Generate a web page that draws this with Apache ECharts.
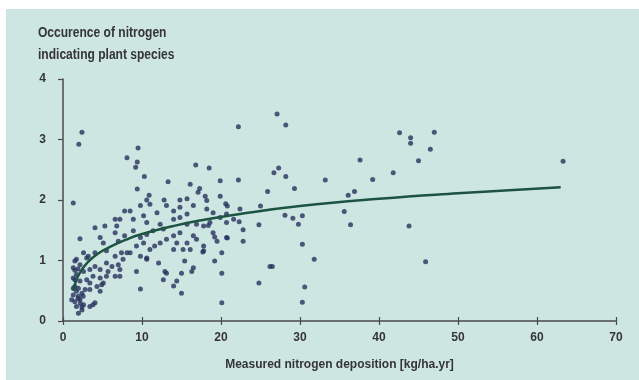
<!DOCTYPE html>
<html>
<head>
<meta charset="utf-8">
<script src="https://cdn.jsdelivr.net/npm/echarts@6/dist/echarts.min.js"></script>
<style>
  html, body { margin: 0; padding: 0; background: #ffffff; }
  #chart { width: 639px; height: 380px; }
</style>
</head>
<body>
<div id="chart"></div>
<script>
// Site observations: [nitrogen deposition (kg/ha.yr), occurrence index]
const observations = [
  [2.4,3.12],[2.0,2.92],[1.3,1.95],[9.5,2.86],[8.1,2.7],[9.4,2.63],[9.2,2.54],[10.3,2.39],
  [9.4,2.18],[13.3,2.3],[16.8,2.58],[18.5,2.53],[19.9,2.32],[22.2,2.33],[22.2,3.21],[16.1,2.26],
  [17.3,2.19],[17.1,2.13],[18.0,2.06],[19.9,2.06],[10.9,2.08],[10.6,2.0],[12.8,2.0],[14.8,2.0],
  [15.7,2.02],[18.2,1.99],
  [9.8,1.91],[11.0,1.93],[11.9,1.79],[13.1,1.91],[14.0,1.82],[14.8,1.88],[15.7,1.77],[16.5,1.91],
  [18.2,1.85],[19.0,1.79],[20.7,1.77],[10.2,1.74],[8.5,1.82],[7.8,1.82],[8.9,1.68],[7.2,1.68],
  [6.6,1.68],[6.8,1.57],[10.6,1.63],[12.3,1.6],[14.0,1.68],[14.8,1.71],[15.7,1.6],[16.9,1.6],
  [17.8,1.57],[18.6,1.63],[19.9,1.71],[20.7,1.63],[21.6,1.68],
  [4.05,1.54],[5.3,1.57],[2.15,1.36],[4.7,1.38],[5.1,1.29],[6.6,1.46],[7.0,1.32],[7.8,1.41],
  [8.9,1.49],[9.8,1.38],[10.6,1.43],[11.4,1.49],[12.7,1.52],[13.1,1.35],[14.0,1.41],[14.4,1.29],
  [14.8,1.46],[15.7,1.29],[16.5,1.41],[16.9,1.35],[17.8,1.24],[19.0,1.46],[19.5,1.32],[20.7,1.38],
  [2.6,1.13],[3.0,1.04],[3.2,1.07],[4.05,1.13],[5.5,1.16],[6.6,1.07],[7.4,1.13],[8.1,1.13],
  [8.5,1.13],[9.3,1.24],[10.2,1.29],[11.0,1.18],[11.6,1.24],[12.3,1.29],[9.8,1.07],[10.6,1.04],
  [12.1,0.96],[14.0,1.18],[15.2,1.18],[16.1,1.18],[19.2,0.99],[20.1,1.13],[17.8,1.16],
  [1.5,0.99],[1.3,0.88],[2.15,0.93],[1.7,0.77],[2.6,0.82],[3.4,0.85],[4.05,0.9],[4.7,0.85],
  [5.5,0.96],[5.7,0.82],[6.2,0.9],[7.0,0.93],[7.2,0.85],[7.6,1.02],[1.5,0.68],[2.15,0.66],
  [3.0,0.68],[3.4,0.63],[3.8,0.74],[4.7,0.71],[5.1,0.63],[5.5,0.74],[6.6,0.74],[7.2,0.74],
  [9.3,0.82],[10.6,1.02],[12.9,0.82],[13.1,0.79],[15.0,0.79],[15.4,0.99],[16.5,0.88],[16.3,0.82],
  [20.1,0.79],[1.3,0.54],[1.7,0.49],[2.4,0.46],[2.8,0.52],[3.4,0.52],[4.3,0.57],[4.7,0.49],
  [4.9,0.6],[9.8,0.53],[12.7,0.68],[14.0,0.58],[14.4,0.66],[1.1,0.35],[1.5,0.32],[2.15,0.35],
  [2.6,0.27],[3.4,0.24],[3.8,0.27],[1.95,0.13],[2.4,0.18],[15.0,0.46],[20.1,0.3],[1.3,0.43],
  [1.95,0.41],
  [1.7,1.02],[1.9,0.86],[1.5,0.84],[1.3,0.71],[1.5,0.57],[1.95,0.54],[2.55,0.41],[1.9,0.37],
  [2.2,0.29],[1.7,0.24],[2.4,0.23],[4.05,0.3],
  [27.1,3.42],[28.2,3.24],[27.3,2.53],[26.7,2.45],[28.2,2.39],[29.3,2.19],[25.9,2.14],[33.2,2.33],
  [37.6,2.66],[39.2,2.34],[41.8,2.45],[42.6,3.11],[36.1,2.08],[36.9,2.14],[35.6,1.81],[36.4,1.59],
  [20.6,1.94],[20.8,1.9],[22.4,1.85],[25.0,1.9],[28.1,1.75],[29.1,1.7],[30.3,1.74],[29.8,1.6],
  [18.4,1.58],[22.3,1.64],[24.8,1.59],[22.8,1.51],[22.8,1.32],[20.8,1.37],[19.2,1.39],[17.7,1.14],
  [30.3,1.27],[31.8,1.02],[26.2,0.9],[26.5,0.9],[24.8,0.63],[30.6,0.56],[30.3,0.31],
  [44.0,3.03],[44.0,2.94],[47.0,3.12],[46.5,2.84],[45.0,2.65],[43.8,1.57],[45.9,0.98],[63.3,2.64]
];

// Fitted trend line
const trendX = [1.3, 1.6, 2.15, 3.2, 4.5, 6.2, 7.9, 9.8, 14, 17.3, 22.4, 30, 40, 50, 63];
const trendY = [0.5, 0.64, 0.8, 0.98, 1.12, 1.24, 1.34, 1.43, 1.57, 1.66, 1.77, 1.9, 2.02, 2.11, 2.21];

// Axis ranges
const xTicks = [0, 10, 20, 30, 40, 50, 60, 70];
const yTicks = [0, 1, 2, 3, 4];

const titleLines = ['Occurence of nitrogen', 'indicating plant species'];
const xAxisTitle = 'Measured nitrogen deposition [kg/ha.yr]';

const FONT = '"Liberation Sans", "DejaVu Sans", sans-serif';
const INK = '#353535';
const AXIS = '#4a4a4a';

const chart = echarts.init(document.getElementById('chart'), null, { renderer: 'canvas' });

const xBase = {
  type: 'value',
  min: xTicks[0],
  max: xTicks[xTicks.length - 1],
  interval: xTicks[1] - xTicks[0],
  splitLine: { show: false }
};

// Two-line axis heading, drawn in a condensed bold face
const titleGraphics = titleLines.map((line, i) => ({
  type: 'text',
  x: 38,
  y: 33 + i * 22,
  scaleX: 0.86,
  silent: true,
  style: {
    text: line,
    font: 'bold 14px "Liberation Sans", "DejaVu Sans", sans-serif',
    fill: INK,
    verticalAlign: 'middle',
    textVerticalAlign: 'middle'
  }
}));

chart.setOption({
  backgroundColor: '#ffffff',
  animation: false,
  graphic: [{
    type: 'rect',
    z: -10,
    silent: true,
    shape: { x: 6, y: 9, width: 633, height: 371 },
    style: { fill: '#cee6e2' }
  }].concat(titleGraphics),
  grid: { left: 63, right: 23, top: 79, bottom: 59, containLabel: false },
  xAxis: [
    Object.assign({}, xBase, {
      position: 'bottom',
      name: xAxisTitle,
      nameLocation: 'middle',
      nameGap: 38,
      nameTextStyle: { fontFamily: FONT, fontSize: 12, fontWeight: 'bold', color: INK },
      axisLine: { show: true, lineStyle: { color: AXIS, width: 1.5 } },
      axisTick: { show: true, inside: false, length: 4, lineStyle: { color: AXIS, width: 1.2 } },
      axisLabel: { fontFamily: FONT, fontSize: 12, fontWeight: 'bold', color: INK, margin: 11 }
    }),
    Object.assign({}, xBase, {
      position: 'bottom',
      axisLine: { show: false },
      axisTick: { show: true, inside: true, length: 4, lineStyle: { color: AXIS, width: 1.2 } },
      axisLabel: { show: false }
    })
  ],
  yAxis: {
    type: 'value',
    min: yTicks[0],
    max: yTicks[yTicks.length - 1],
    interval: yTicks[1] - yTicks[0],
    splitLine: { show: false },
    axisLine: { show: true, lineStyle: { color: AXIS, width: 1.5 } },
    axisTick: { show: true, length: 5, lineStyle: { color: AXIS, width: 1.2 } },
    axisLabel: { fontFamily: FONT, fontSize: 12, fontWeight: 'bold', color: INK, margin: 17 }
  },
  series: [
    {
      type: 'scatter',
      xAxisIndex: 0,
      data: observations,
      symbol: 'circle',
      symbolSize: 5,
      itemStyle: { color: '#28325e' },
      z: 2
    },
    {
      type: 'line',
      xAxisIndex: 0,
      data: trendX.map((x, i) => [x, trendY[i]]),
      smooth: true,
      showSymbol: false,
      lineStyle: { color: '#1d5441', width: 2.5 },
      z: 3
    }
  ]
});
</script>
</body>
</html>
